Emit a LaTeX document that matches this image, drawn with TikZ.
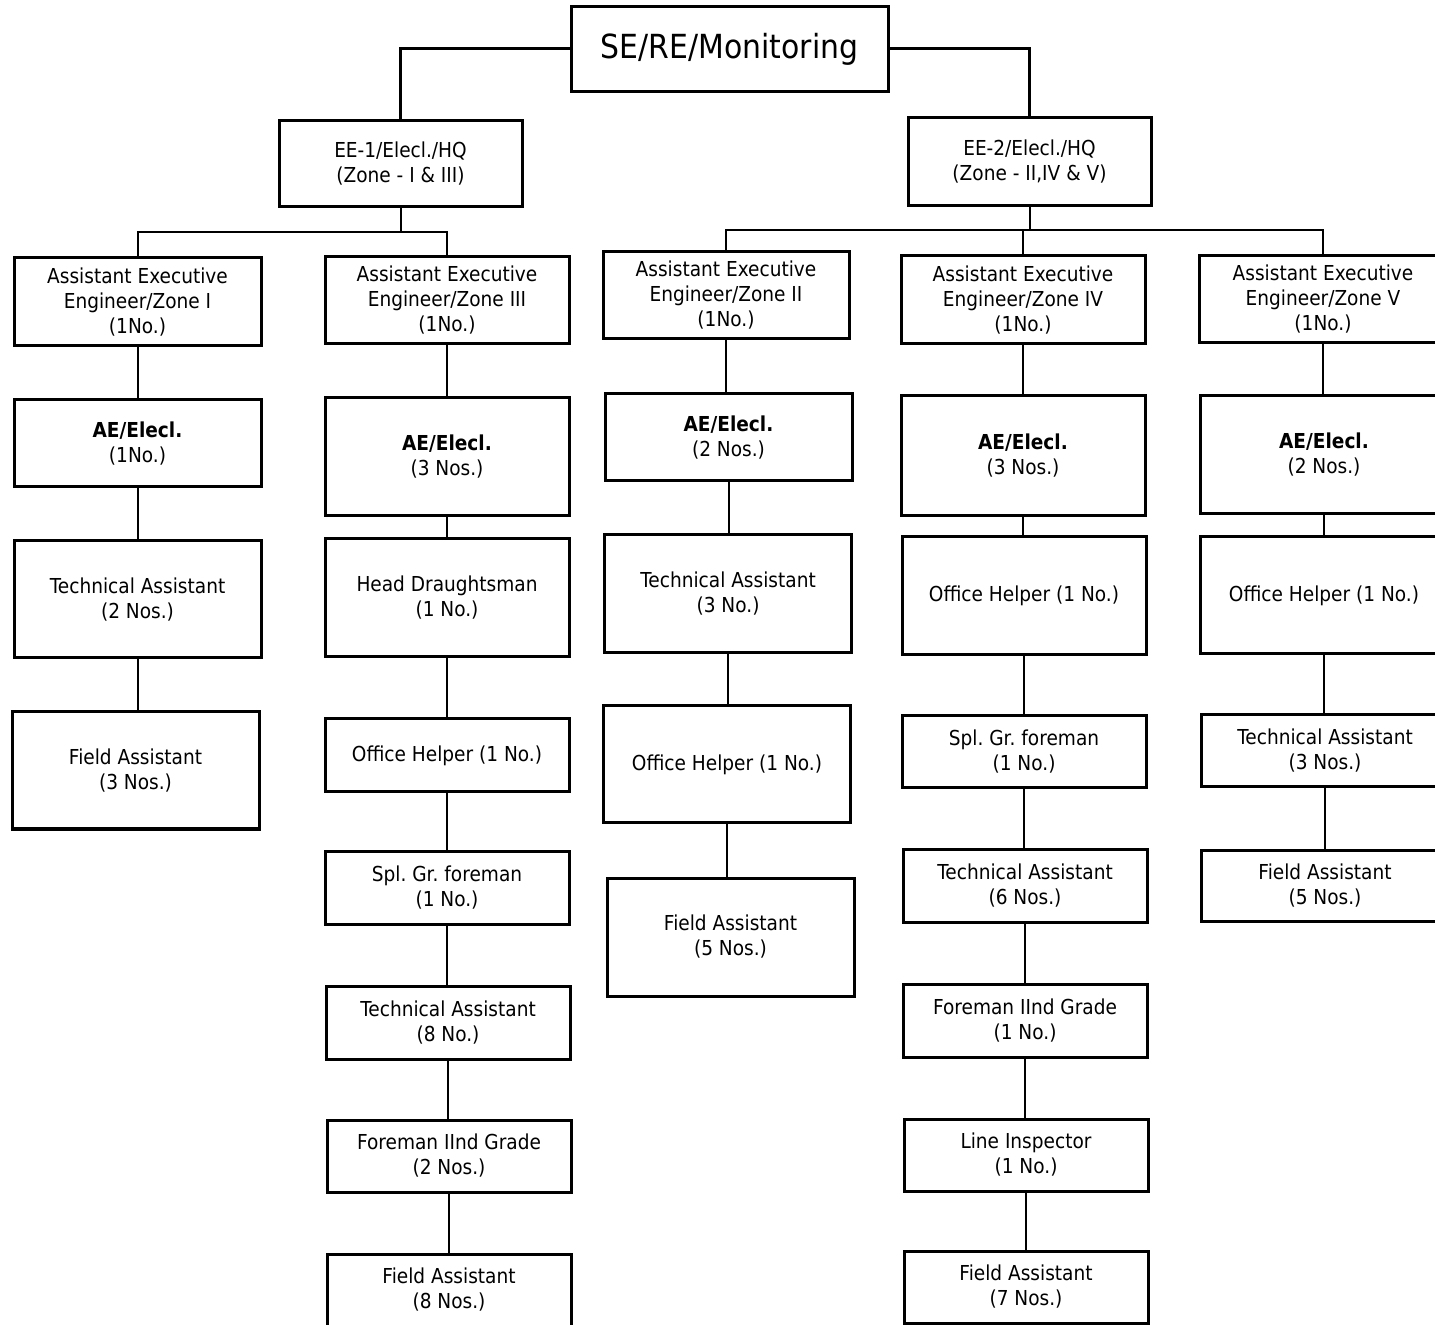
\documentclass[tikz,border=0pt]{standalone}
\usepackage{fontspec}
\setmainfont{DejaVu Sans}[FakeStretch=0.9]
\usepackage{tikz}
\frenchspacing
\tikzstyle{post}=[
        draw=black,
        line width=1.5pt,
        align=center,
        inner sep=2pt,
        font=\fontsize{10.3}{12.5}\selectfont
]
\tikzstyle{link}=[
        draw=black,
        line width=1pt
]
\begin{document}
\begin{tikzpicture}[x=0.5pt,y=-0.5pt]
                    \useasboundingbox (0,0) rectangle (1435,1325);

                    \node[post,minimum width=158.5pt,minimum height=42.5pt,font=\fontsize{16.6}{19}\selectfont] (top) at (729.5,49) {SE/RE/Monitoring};

                    \node[post,minimum width=121.5pt,minimum height=43pt] (eeA) at (400.5,164) {EE-1/Elecl./HQ\\(Zone - I \& III)};
                    \node[post,minimum width=121.5pt,minimum height=44pt] (eeB) at (1029.5,162) {EE-2/Elecl./HQ\\(Zone - II,IV \& V)};

                    % Zone I
                    \node[post,minimum width=123.5pt,minimum height=44pt] (aeeI) at (137.5,302) {Assistant Executive\\Engineer/Zone I\\(1No.)};
                    \node[post,minimum width=123.5pt,minimum height=43.5pt] (aeI) at (137.5,443.5) {\textbf{AE/Elecl.}\\(1No.)};
                    \node[post,minimum width=123.5pt,minimum height=58.5pt] (taI) at (137.5,599.5) {Technical Assistant\\(2 Nos.)};
                    \node[post,minimum width=123.5pt,minimum height=58.5pt] (faI) at (135.5,770.5) {Field Assistant\\(3 Nos.)};

                    % Zone III
                    \node[post,minimum width=122pt,minimum height=43.5pt] (aeeIII) at (447,300.5) {Assistant Executive\\Engineer/Zone III\\(1No.)};
                    \node[post,minimum width=122pt,minimum height=59pt] (aeIII) at (447,457) {\textbf{AE/Elecl.}\\(3 Nos.)};
                    \node[post,minimum width=122pt,minimum height=59pt] (hdIII) at (447,598) {Head Draughtsman\\(1 No.)};
                    \node[post,minimum width=122pt,minimum height=36.5pt] (ohIII) at (447,755.5) {Office Helper (1 No.)};
                    \node[post,minimum width=122pt,minimum height=36.5pt] (sgIII) at (447,887.5) {Spl. Gr. foreman\\(1 No.)};
                    \node[post,minimum width=122pt,minimum height=36.5pt] (taIII) at (448,1022.5) {Technical Assistant\\(8 No.)};
                    \node[post,minimum width=122pt,minimum height=36pt] (fmIII) at (449,1156) {Foreman IInd Grade\\(2 Nos.)};
                    \node[post,minimum width=122pt,minimum height=36pt] (faIII) at (449,1290) {Field Assistant\\(8 Nos.)};

                    % Zone II
                    \node[post,minimum width=123pt,minimum height=43.5pt] (aeeII) at (726,295.5) {Assistant Executive\\Engineer/Zone II\\(1No.)};
                    \node[post,minimum width=123.5pt,minimum height=43.5pt] (aeII) at (728.5,437.5) {\textbf{AE/Elecl.}\\(2 Nos.)};
                    \node[post,minimum width=123.5pt,minimum height=59pt] (taII) at (728,594) {Technical Assistant\\(3 No.)};
                    \node[post,minimum width=123.5pt,minimum height=58.5pt] (ohII) at (727,764.5) {Office Helper (1 No.)};
                    \node[post,minimum width=123.5pt,minimum height=59pt] (faII) at (730.5,937) {Field Assistant\\(5 Nos.)};

                    % Zone IV
                    \node[post,minimum width=122pt,minimum height=44pt] (aeeIV) at (1023,300) {Assistant Executive\\Engineer/Zone IV\\(1No.)};
                    \node[post,minimum width=122pt,minimum height=60pt] (aeIV) at (1023,456) {\textbf{AE/Elecl.}\\(3 Nos.)};
                    \node[post,minimum width=122pt,minimum height=59pt] (ohIV) at (1024,596) {Office Helper (1 No.)};
                    \node[post,minimum width=122pt,minimum height=36pt] (sgIV) at (1024,752) {Spl. Gr. foreman\\(1 No.)};
                    \node[post,minimum width=122pt,minimum height=36.5pt] (taIV) at (1025,885.5) {Technical Assistant\\(6 Nos.)};
                    \node[post,minimum width=122pt,minimum height=36.5pt] (fmIV) at (1025,1020.5) {Foreman IInd Grade\\(1 No.)};
                    \node[post,minimum width=122pt,minimum height=36pt] (liIV) at (1026,1155) {Line Inspector\\(1 No.)};
                    \node[post,minimum width=122pt,minimum height=36pt] (faIV) at (1026,1287) {Field Assistant\\(7 Nos.)};

                    % Zone V
                    \node[post,minimum width=124pt,minimum height=43.5pt] (aeeV) at (1323,299.5) {Assistant Executive\\Engineer/Zone V\\(1No.)};
                    \node[post,minimum width=124pt,minimum height=59pt] (aeV) at (1324,455) {\textbf{AE/Elecl.}\\(2 Nos.)};
                    \node[post,minimum width=124pt,minimum height=58.5pt] (ohV) at (1324,595.5) {Office Helper (1 No.)};
                    \node[post,minimum width=124pt,minimum height=36pt] (taV) at (1325,751) {Technical Assistant\\(3 Nos.)};
                    \node[post,minimum width=124pt,minimum height=35.5pt] (faV) at (1325,885.5) {Field Assistant\\(5 Nos.)};

                    \draw[link,line width=1.5pt] (top.west) -| (eeA.north);
                    \draw[link,line width=1.5pt] (top.east) -| (eeB.north);

                    \coordinate (busA) at (400.5,232);
                    \coordinate (busB) at (1029.5,230);

                    \draw[link] (eeA.south) -- (busA);
                    \draw[link] (aeeI.north) |- (busA) -| (aeeIII.north);
                    \draw[link] (eeB.south) -- (busB);
                    \draw[link] (aeeII.north) |- (busB) -| (aeeV.north);
                    \draw[link] (aeeIV.north) -- (aeeIV.north |- busB);

                    \foreach \a/\b in {aeeI/aeI,aeI/taI,taI/faI,
                                       aeeIII/aeIII,aeIII/hdIII,hdIII/ohIII,ohIII/sgIII,sgIII/taIII,taIII/fmIII,fmIII/faIII,
                                       aeeII/aeII,aeII/taII,taII/ohII,ohII/faII,
                                       aeeIV/aeIV,aeIV/ohIV,ohIV/sgIV,sgIV/taIV,taIV/fmIV,fmIV/liIV,liIV/faIV,
                                       aeeV/aeV,aeV/ohV,ohV/taV,taV/faV} {
                        \draw[link] (\a.south) -- (\a.south |- \b.north);
                    }

                \end{tikzpicture}
\end{document}
